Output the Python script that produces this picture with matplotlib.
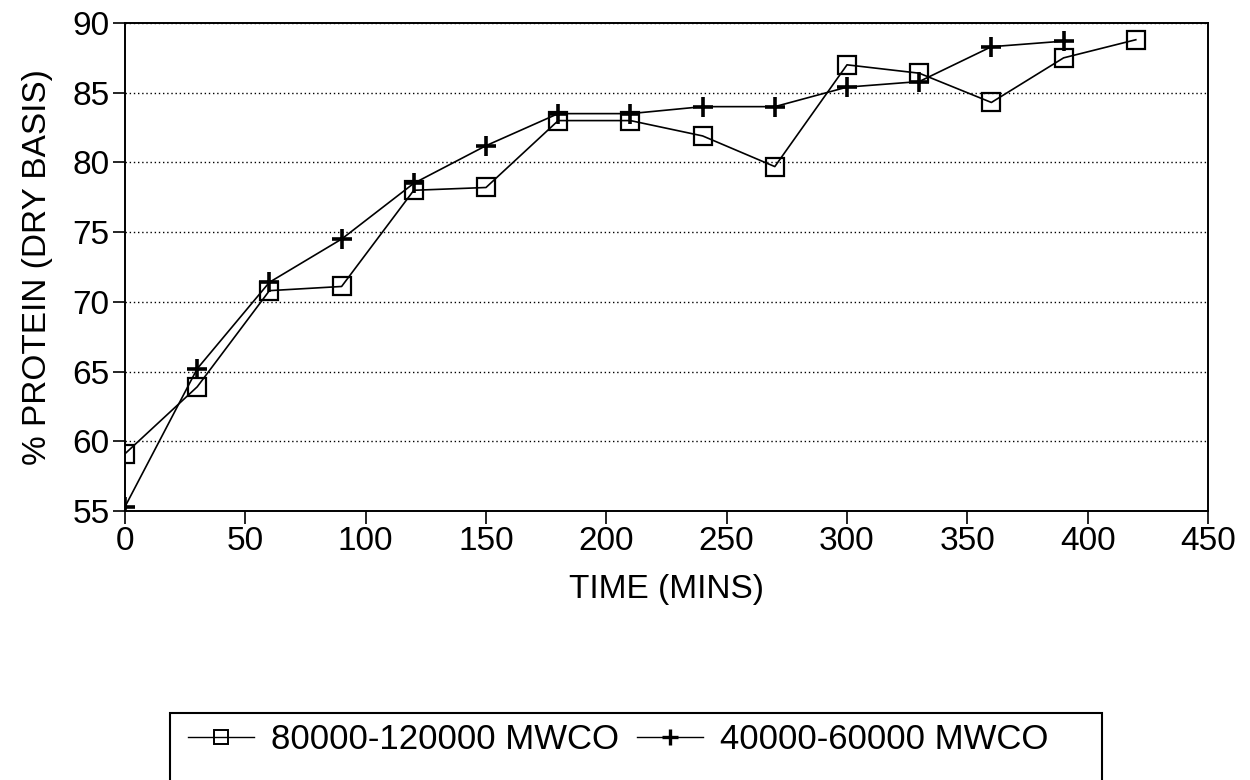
import numpy as np
import matplotlib.pyplot as plt
from matplotlib.lines import Line2D
from matplotlib.patches import Rectangle

plt.rcParams['font.family'] = ['Liberation Sans', 'DejaVu Sans']

# sampling times (mins) and % protein for the two membranes
time_a = [0, 30, 60, 90, 120, 150, 180, 210, 240, 270, 300, 330, 360, 390, 420]
protein_a = [59.1, 63.9, 70.8, 71.1, 78.0, 78.2, 83.0, 83.0, 81.9, 79.7, 87.0, 86.4, 84.3, 87.5, 88.8]
time_b = [0, 30, 60, 90, 120, 150, 180, 210, 240, 270, 300, 330, 360, 390]
protein_b = [55.3, 65.2, 71.4, 74.5, 78.5, 81.2, 83.5, 83.5, 84.0, 84.0, 85.4, 85.8, 88.3, 88.7]
label_a = '80000-120000 MWCO'
label_b = '40000-60000 MWCO'

fig = plt.figure(figsize=(12.5, 7.8), dpi=100)
ax = fig.add_axes([0.1, 0.345, 0.8664, 0.6255])

ax.plot(time_a, protein_a, color='black', lw=1.2, marker='s', ms=13,
        mfc='none', mec='black', mew=1.6)
ax.plot(time_b, protein_b, color='black', lw=1.2, marker='+', ms=14, mew=2.6)

ax.set_xlim(0, 450)
ax.set_ylim(55, 90)
ax.set_xticks(np.arange(0, 451, 50))
ax.set_yticks(np.arange(55, 91, 5))
ax.yaxis.grid(True, ls=(0, (1, 2)), color='black', lw=1.0)
ax.tick_params(axis='both', labelsize=24, direction='out', length=9, width=1.2, pad=2)
for s in ax.spines.values():
    s.set_linewidth(1.4)

ax.set_xlabel('TIME (MINS)', fontsize=24, labelpad=12)
ax.set_ylabel('% PROTEIN (DRY BASIS)', fontsize=24, labelpad=14)

# legend box runs off the bottom of the page
frame = Rectangle((0.136, -0.05), 0.7456, 0.1359, transform=fig.transFigure,
                  fill=False, edgecolor='black', lw=1.5)
fig.patches.append(frame)

handles = [Line2D([], [], color='black', lw=1.0, marker='s', ms=10, mfc='none', mew=1.4),
           Line2D([], [], color='black', lw=1.0, marker='+', ms=12, mew=2.4)]
fig.legend(handles, [label_a, label_b], loc='center left', ncol=2,
           bbox_to_anchor=(0.1504, 0.0513), fontsize=25, frameon=False,
           handlelength=1.9, handletextpad=0.5, columnspacing=0.5,
           borderpad=0, borderaxespad=0)

fig.savefig('out.png', dpi=100, facecolor='white')
